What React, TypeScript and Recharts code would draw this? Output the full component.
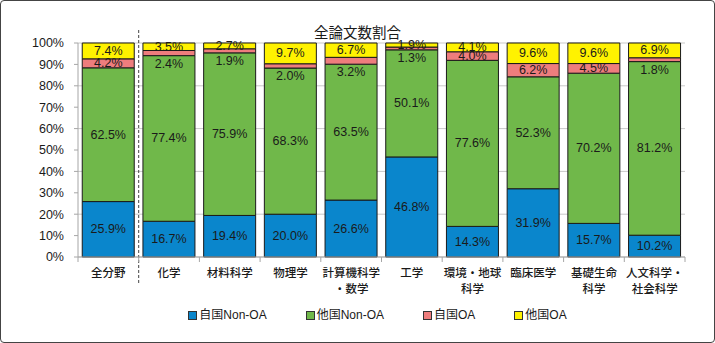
import React from "react";
import {
  Bar,
  BarChart,
  CartesianGrid,
  LabelList,
  Legend,
  ReferenceLine,
  XAxis,
  YAxis,
} from "recharts";

const categories = [
  "全分野",
  "化学",
  "材料科学",
  "物理学",
  "計算機科学\n・数学",
  "工学",
  "環境・地球\n科学",
  "臨床医学",
  "基礎生命\n科学",
  "人文科学・\n社会科学",
];

const selfNonOA = [25.9, 16.7, 19.4, 20.0, 26.6, 46.8, 14.3, 31.9, 15.7, 10.2];
const otherNonOA = [62.5, 77.4, 75.9, 68.3, 63.5, 50.1, 77.6, 52.3, 70.2, 81.2];
const selfOA = [4.2, 2.4, 1.9, 2.0, 3.2, 1.3, 4.0, 6.2, 4.5, 1.8];
const otherOA = [7.4, 3.5, 2.7, 9.7, 6.7, 1.9, 4.1, 9.6, 9.6, 6.9];

const yTicks = [0, 0.1, 0.2, 0.3, 0.4, 0.5, 0.6, 0.7, 0.8, 0.9, 1];

const series = [
  { key: "selfNonOA", name: "自国Non-OA", color: "#0A86CC" },
  { key: "otherNonOA", name: "他国Non-OA", color: "#70B84A" },
  { key: "selfOA", name: "自国OA", color: "#EE7D7D" },
  { key: "otherOA", name: "他国OA", color: "#FFF200" },
];

const data = categories.map((name, i) => ({
  name,
  selfNonOA: selfNonOA[i],
  otherNonOA: otherNonOA[i],
  selfOA: selfOA[i],
  otherOA: otherOA[i],
}));

const LATIN = "'Liberation Sans', Arial, sans-serif";
const JP = "'Noto Sans CJK JP', sans-serif";

// small self-OA slices get their label just under the slice, like the original
const makeLabel = (smallBelow: boolean) => (props: any) => {
  const { x, y, width, height, value } = props;
  const below = smallBelow && value < 4;
  const cy = below ? y + height + 8 : y + height / 2;
  return (
    <text
      x={x + width / 2}
      y={cy}
      textAnchor="middle"
      dominantBaseline="central"
      fontSize={12.5}
      fontFamily={LATIN}
      fill="#1a1a1a"
    >
      {Number(value).toFixed(1)}%
    </text>
  );
};

const CategoryTick = (props: any) => {
  const { x, y, payload, index, visibleTicksCount } = props;
  const half = payload.offset ?? 0;
  const lines = String(payload.value).split("\n");
  return (
    <g>
      <line x1={x - half} x2={x - half} y1={y} y2={y + 5} stroke="#a6a6a6" />
      {index === visibleTicksCount - 1 && (
        <line x1={x + half} x2={x + half} y1={y} y2={y + 5} stroke="#a6a6a6" />
      )}
      <text
        x={x}
        y={y + 15}
        textAnchor="middle"
        dominantBaseline="central"
        fontSize={11.5}
        fontFamily={JP}
        fontWeight={500}
        fill="#1a1a1a"
      >
        {lines.map((l, i) => (
          <tspan key={i} x={x} dy={i === 0 ? 0 : 15.5}>
            {l}
          </tspan>
        ))}
      </text>
    </g>
  );
};

const LegendContent = () => (
  <div
    style={{
      display: "flex",
      justifyContent: "center",
      gap: 39,
      paddingLeft: 40,
      fontSize: 12,
      fontFamily: `${LATIN.split(",")[0]}, ${JP}`,
      color: "#1a1a1a",
      lineHeight: "15px",
    }}
  >
    {series.map((s) => (
      <div key={s.key} style={{ display: "flex", alignItems: "center" }}>
        <span
          style={{
            display: "inline-block",
            width: 7,
            height: 7,
            background: s.color,
            border: "1px solid #333",
            marginRight: 2,
          }}
        />
        <span>{s.name}</span>
      </div>
    ))}
  </div>
);

const DashedDivider = (p: any) => (
  <line
    x1={p.x1}
    x2={p.x2}
    y1={Math.min(p.y1, p.y2) - 13}
    y2={Math.max(p.y1, p.y2) + 27}
    stroke="#444"
    strokeDasharray="3 2"
    strokeWidth={1}
  />
);

export default function App() {
  return (
    <div style={{ position: "relative", width: 715, height: 343, background: "#fff" }}>
      <style>{"body{margin:0}"}</style>
      <div
        style={{
          position: "absolute",
          left: 0,
          top: 24,
          width: 715,
          textAlign: "center",
          fontSize: 14.5,
          lineHeight: "15px",
          fontFamily: JP,
          color: "#1a1a1a",
        }}
      >
        全論文数割合
      </div>
      <BarChart
        width={715}
        height={343}
        data={data}
        stackOffset="expand"
        barCategoryGap="7%"
        margin={{ top: 43, right: 30, left: 8, bottom: 46 }}
      >
        <CartesianGrid vertical={false} stroke="#c9c9c9" />
        <XAxis
          dataKey="name"
          interval={0}
          height={40}
          tickLine={false}
          tickSize={0}
          tickMargin={0}
          axisLine={{ stroke: "#a6a6a6" }}
          tick={<CategoryTick />}
        />
        <YAxis
          width={70}
          ticks={yTicks}
          domain={[0, 1]}
          tickFormatter={(v: number) => `${Math.round(v * 100)}%`}
          tickSize={4}
          tickMargin={10}
          tickLine={{ stroke: "#a6a6a6" }}
          axisLine={{ stroke: "#a6a6a6" }}
          tick={{ fontSize: 12.5, fontFamily: LATIN, fill: "#1a1a1a" }}
        />
        {series.map((s) => (
          <Bar
            key={s.key}
            dataKey={s.key}
            name={s.name}
            stackId="a"
            fill={s.color}
            stroke="#1a1a1a"
            strokeWidth={1}
            isAnimationActive={false}
          >
            <LabelList dataKey={s.key} content={makeLabel(s.key === "selfOA")} />
          </Bar>
        ))}
        <ReferenceLine
          x="化学"
          position="start"
          ifOverflow="visible"
          shape={<DashedDivider />}
        />
        <Legend
          verticalAlign="middle"
          align="center"
          wrapperStyle={{ top: 308, left: 0, width: 715 }}
          content={<LegendContent />}
        />
      </BarChart>
      <div
        style={{
          position: "absolute",
          inset: 0,
          border: "1.5px solid #444",
          borderRadius: 4,
          pointerEvents: "none",
        }}
      />
    </div>
  );
}
